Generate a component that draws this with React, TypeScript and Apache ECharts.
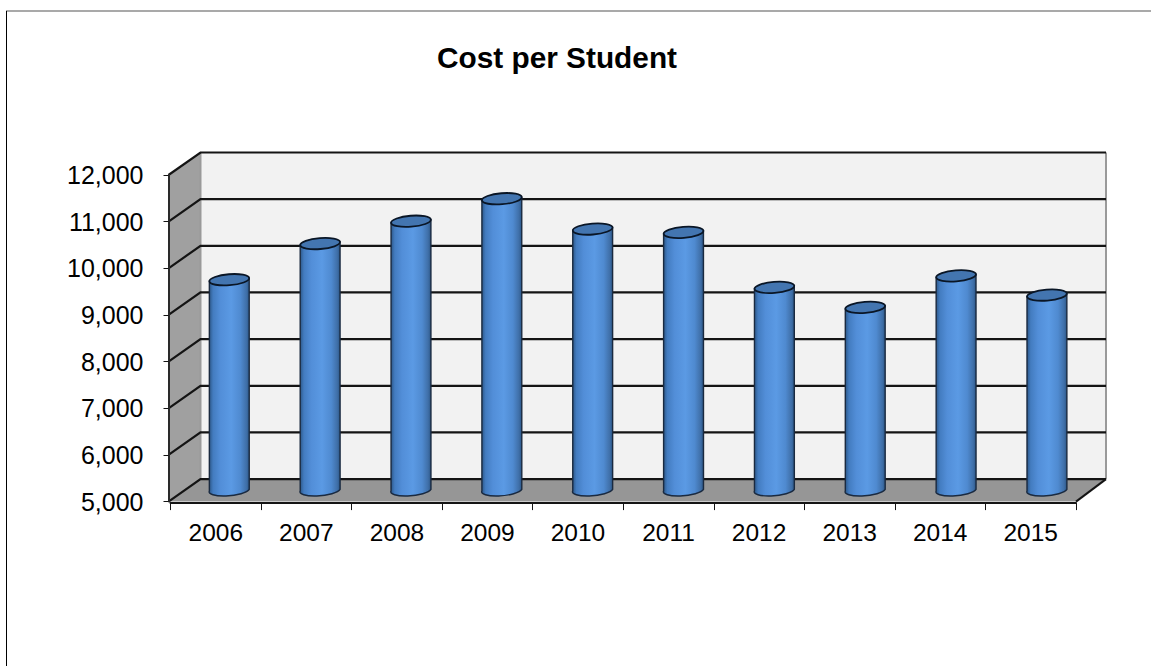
import React, { useEffect, useRef } from "react";
import * as echarts from "echarts";

const years = ["2006", "2007", "2008", "2009", "2010", "2011", "2012", "2013", "2014", "2015"];
const costs = [9514, 10290, 10768, 11250, 10601, 10530, 9351, 8923, 9598, 9186];
const yTicks = [5000, 6000, 7000, 8000, 9000, 10000, 11000, 12000];

const FONT = '"Liberation Sans", Arial, sans-serif';
const DEPTH_X = 30;
const DEPTH_Y = 22.5;

function renderWalls(params: any, api: any) {
  const cs = params.coordSys;
  const x0 = cs.x;
  const x1 = cs.x + cs.width;
  const yBot = cs.y + cs.height;
  const yTop = cs.y;
  const left = x0 - 2;
  const children: any[] = [
    {
      type: "polygon",
      shape: { points: [[left + 32, yTop - DEPTH_Y], [x1 + DEPTH_X, yTop - DEPTH_Y], [x1 + DEPTH_X, yBot - DEPTH_Y], [left + 32, yBot - DEPTH_Y]] },
      style: { fill: "#f2f2f2", stroke: null },
    },
    {
      type: "polygon",
      shape: { points: [[left, yTop], [left + 32, yTop - DEPTH_Y], [left + 32, yBot - DEPTH_Y], [left, yBot]] },
      style: { fill: "#a0a0a0", stroke: null },
    },
    {
      type: "polygon",
      shape: { points: [[left, yBot], [left + 32, yBot - DEPTH_Y], [x1 + DEPTH_X, yBot - DEPTH_Y], [x1, yBot]] },
      style: { fill: "#969696", stroke: null },
    },
    {
      type: "line",
      shape: { x1: left + 32, y1: yTop - DEPTH_Y, x2: left + 32, y2: yBot - DEPTH_Y },
      style: { stroke: "#9a9a9a", lineWidth: 2 },
    },
    {
      type: "line",
      shape: { x1: x1 + DEPTH_X, y1: yTop - DEPTH_Y, x2: x1 + DEPTH_X, y2: yBot - DEPTH_Y },
      style: { stroke: "#9a9a9a", lineWidth: 2 },
    },
  ];
  yTicks.forEach((t) => {
    const y = api.coord([0, t])[1];
    children.push({
      type: "polyline",
      shape: { points: [[left, y], [left + 32, y - DEPTH_Y], [x1 + DEPTH_X, y - DEPTH_Y]] },
      style: { stroke: "#141414", lineWidth: 2.2, fill: null },
    });
  });
  children.push({
    type: "line",
    shape: { x1: x1, y1: yBot, x2: x1 + DEPTH_X, y2: yBot - DEPTH_Y },
    style: { stroke: "#141414", lineWidth: 2 },
  });
  return { type: "group", children };
}

function renderCylinder(_params: any, api: any) {
  const idx = api.value(0);
  const val = api.value(1);
  const band = api.size([1, 0])[0];
  const rx = band * 0.22;
  const ry = 5.5;
  const tilt = 1.5;
  const cx = api.coord([idx, val])[0] + DEPTH_X / 2 - 1.5 + idx * 0.3;
  const top = api.coord([idx, val])[1] - DEPTH_Y / 2;
  const base = api.coord([idx, 5000])[1] - DEPTH_Y / 2 - 1;
  const d =
    `M ${cx - rx} ${top + tilt} L ${cx - rx} ${base + tilt} ` +
    `A ${rx} ${ry} -4.6 0 0 ${cx + rx} ${base - tilt} L ${cx + rx} ${top - tilt} Z`;
  return {
    type: "group",
    children: [
      {
        type: "path",
        shape: { pathData: d },
        style: {
          fill: new echarts.graphic.LinearGradient(0, 0, 1, 0, [
            { offset: 0, color: "#2b5686" },
            { offset: 0.1, color: "#437cc0" },
            { offset: 0.28, color: "#528ed8" },
            { offset: 0.55, color: "#5b9ae4" },
            { offset: 0.78, color: "#4f8ad0" },
            { offset: 0.93, color: "#3f6fa8" },
            { offset: 1, color: "#2b5686" },
          ]),
          stroke: "#1a2a40",
          lineWidth: 1.4,
        },
      },
      {
        type: "ellipse",
        x: cx,
        y: top,
        rotation: 0.08,
        shape: { cx: 0, cy: 0, rx, ry },
        style: { fill: "#4375b0", stroke: "#0a1626", lineWidth: 1.8 },
      },
    ],
  };
}

export default function App() {
  const ref = useRef<HTMLDivElement>(null);
  useEffect(() => {
    const chart = echarts.init(ref.current!, undefined, { renderer: "svg" });
    chart.setOption({
      animation: false,
      backgroundColor: "#ffffff",
      title: {
        text: "Cost per Student",
        left: 552,
        top: 37,
        textAlign: "center",
        textStyle: { fontFamily: FONT, fontSize: 29.8, fontWeight: "bold", color: "#000" },
      },
      grid: { left: 170.5, top: 175, width: 905.5, height: 326.6 },
      xAxis: {
        type: "category",
        data: years,
        offset: 1.5,
        z: 5,
        axisLine: { show: true, lineStyle: { color: "#141414", width: 2 } },
        axisTick: { show: true, length: 7, lineStyle: { color: "#141414", width: 1 }, alignWithLabel: false },
        axisLabel: { fontFamily: FONT, fontSize: 24.5, color: "#000", margin: 17, interval: 0 },
      },
      yAxis: {
        type: "value",
        min: 5000,
        max: 12000,
        interval: 1000,
        offset: 2,
        z: 5,
        splitLine: { show: false },
        axisLine: { show: true, lineStyle: { color: "#2a2a2a", width: 2 } },
        axisTick: { show: true, length: 5, lineStyle: { color: "#141414", width: 1 } },
        axisLabel: {
          fontFamily: FONT,
          fontSize: 25,
          color: "#000",
          margin: 25,
          padding: [4, 0, 0, 0],
          formatter: (v: number) => v.toLocaleString("en-US"),
        },
      },
      graphic: [
        { type: "line", silent: true, shape: { x1: 6, y1: 11, x2: 1151, y2: 11 }, style: { stroke: "#555", lineWidth: 1.2 } },
        { type: "line", silent: true, shape: { x1: 6.5, y1: 11, x2: 6.5, y2: 666 }, style: { stroke: "#000", lineWidth: 1 } },
      ],
      series: [
        {
          type: "custom",
          name: "walls",
          z: 1,
          silent: true,
          clip: false,
          data: [[0, 5000]],
          encode: { x: 0, y: 1 },
          renderItem: renderWalls,
        },
        {
          type: "custom",
          name: "Cost per Student",
          z: 2,
          clip: false,
          data: costs.map((c, i) => [i, c]),
          encode: { x: 0, y: 1 },
          renderItem: renderCylinder,
        },
      ],
    });
    return () => chart.dispose();
  }, []);
  return <div ref={ref} style={{ position: "absolute", left: 0, top: 0, width: 1151, height: 666 }} />;
}
